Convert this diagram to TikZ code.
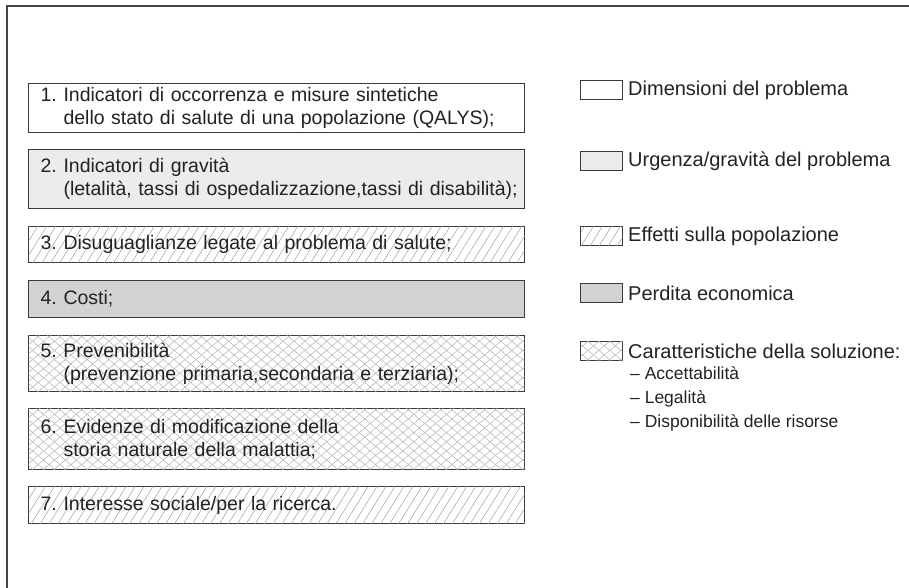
\documentclass[tikz,border=0pt]{standalone}
\usepackage{fontspec}
\setmainfont{Liberation Sans}
\usetikzlibrary{patterns.meta}
\definecolor{boxline}{HTML}{3A3A3A}
\definecolor{framecol}{HTML}{444444}
\definecolor{lightfill}{HTML}{ECECEC}
\definecolor{midfill}{HTML}{D2D2D2}
\definecolor{hatchcol}{HTML}{A0A0A0}
\definecolor{crosscol}{HTML}{ADADAD}
\definecolor{txt}{HTML}{222222}
\newcommand{\nb}[1]{\makebox[23pt][l]{#1}}
\newcommand{\cont}[1]{\mbox{\hspace*{23pt}#1}}
\tikzset{
  itembox/.style={draw=boxline, line width=1.1pt, anchor=north west,
    minimum width=496pt, text width=472pt, inner xsep=12pt, inner ysep=0pt,
    align=left, font=\fontsize{19.5}{23}\selectfont, text=txt},
  swatch/.style={draw=boxline, line width=1pt, anchor=north west,
    minimum width=42pt, minimum height=19pt, inner sep=0pt},
  legtext/.style={anchor=west, inner sep=0pt, font=\fontsize{20}{23}\selectfont, text=txt},
  subtext/.style={anchor=base west, inner sep=0pt, font=\fontsize{17.5}{19}\selectfont, text=txt},
  plainfill/.style={fill=white},
  lightgray/.style={fill=lightfill},
  midgray/.style={fill=midfill},
  slanted/.style={fill=white, postaction={pattern={Lines[angle=58,distance=7.6pt,line width=0.5pt]}, pattern color=hatchcol}},
  crossed/.style={fill=white,
    postaction={pattern={Lines[angle=40,distance=7pt,line width=0.45pt]}, pattern color=crosscol},
    postaction={pattern={Lines[angle=-40,distance=7pt,line width=0.45pt]}, pattern color=crosscol}},
}
\begin{document}
\begin{tikzpicture}[x=1pt,y=-1pt]
\useasboundingbox (0,0) rectangle (909,588);
% frame
\coordinate (fc) at (7,6);
\coordinate (fr) at (909,6);
\coordinate (fb) at (7,588);
\draw[framecol, line width=1.6pt] (fr) -- (fc) -- (fb);

% item boxes
\node[itembox, plainfill, minimum height=49pt] (b1) at (28,83)
  {\mbox{\nb{1.}Indicatori di occorrenza e misure sintetiche}\\\cont{dello stato di salute di una popolazione (QALYS);}};
\node[itembox, lightgray, minimum height=59pt] (b2) at (28,149)
  {\mbox{\nb{2.}Indicatori di gravità}\\\cont{(letalità, tassi di ospedalizzazione,tassi di disabilità);}};
\node[itembox, slanted, minimum height=36pt] (b3) at (28,226)
  {\mbox{\nb{3.}Disuguaglianze legate al problema di salute;}};
\node[itembox, midgray, minimum height=37pt] (b4) at (28,280)
  {\mbox{\nb{4.}Costi;}};
\node[itembox, crossed, minimum height=56pt] (b5) at (28,335)
  {\mbox{5.\ Prevenibilità}\\\cont{(prevenzione primaria,secondaria e terziaria);}};
\node[itembox, crossed, minimum height=61pt] (b6) at (28,408)
  {\mbox{\nb{6.}Evidenze di modificazione della}\\\cont{storia naturale della malattia;}};
\node[itembox, slanted, minimum height=37pt] (b7) at (28,486)
  {\mbox{\nb{7.}Interesse sociale/per la ricerca.}};

% legend
\node[swatch, plainfill] (s1) at (580,80) {};
\node[legtext] (l1) at ([xshift=5pt]s1.east) {Dimensioni del problema};
\node[swatch, lightgray] (s2) at (580,151) {};
\node[legtext] (l2) at ([xshift=5pt]s2.east) {Urgenza/gravità del problema};
\node[swatch, slanted] (s3) at (580,226) {};
\node[legtext] (l3) at ([xshift=5pt]s3.east) {Effetti sulla popolazione};
\node[swatch, midgray] (s4) at (580,283) {};
\node[legtext] (l4) at ([xshift=5pt]s4.east) {Perdita economica};
\node[swatch, crossed] (s5) at (580,341) {};
\node[legtext] (l5) at ([xshift=5pt]s5.east) {Caratteristiche della soluzione:};
\node[subtext] (t1) at (630,379) {– Accettabilità};
\node[subtext] (t2) at (630,403) {– Legalità};
\node[subtext] (t3) at (630,427) {– Disponibilità delle risorse};
\end{tikzpicture}
\end{document}
